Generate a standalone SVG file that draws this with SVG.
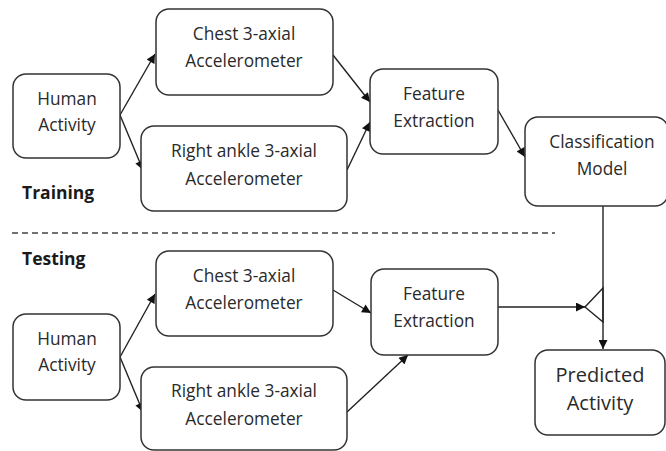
<svg xmlns="http://www.w3.org/2000/svg" width="666" height="451" viewBox="0 0 666 451">
<defs>
<marker id="ah" viewBox="0 0 10 10" refX="10" refY="5" markerWidth="10" markerHeight="9" markerUnits="userSpaceOnUse" orient="auto">
<path d="M0,0 L10,5 L0,10 Z" fill="#111"/>
</marker>
<style>
.box{fill:#fff;stroke:#333;stroke-width:1.5}
.t{font-family:"Open Sans","DejaVu Sans",sans-serif;font-size:17.3px;fill:#2a2a2a;text-anchor:middle}
.big{font-size:20px}
.lbl{font-family:"Open Sans","DejaVu Sans",sans-serif;font-size:17.5px;font-weight:bold;fill:#1a1a1a}
.c{stroke:#222;stroke-width:1.4;fill:none}
</style>
</defs>
<rect width="666" height="451" fill="#fff"/>
<g id="connectors">
<line class="c" x1="120" y1="115" x2="155" y2="54" marker-end="url(#ah)"/>
<line class="c" x1="120" y1="115" x2="143" y2="170" marker-end="url(#ah)"/>
<line class="c" x1="333" y1="55" x2="370" y2="102" marker-end="url(#ah)"/>
<line class="c" x1="347" y1="170" x2="370" y2="122" marker-end="url(#ah)"/>
<line class="c" x1="498" y1="110" x2="525" y2="157" marker-end="url(#ah)"/>
<line class="c" x1="120" y1="357" x2="155" y2="294" marker-end="url(#ah)"/>
<line class="c" x1="120" y1="357" x2="143" y2="412" marker-end="url(#ah)"/>
<line class="c" x1="333" y1="290" x2="371" y2="313" marker-end="url(#ah)"/>
<line class="c" x1="347" y1="412" x2="408" y2="355" marker-end="url(#ah)"/>
<line class="c" x1="498" y1="307" x2="585" y2="307" marker-end="url(#ah)"/>
<polygon class="c" points="585,307 603,288 603,322"/>
<line class="c" x1="603" y1="206" x2="603" y2="349" marker-end="url(#ah)"/>
<line x1="12" y1="233" x2="555" y2="233" stroke="#444" stroke-width="1.3" stroke-dasharray="6,4"/>
</g>
<g id="train-human"><rect class="box" x="13" y="74" width="107" height="84" rx="13"/><text class="t" x="67" y="105">Human</text><text class="t" x="67" y="131">Activity</text></g>
<g id="train-chest"><rect class="box" x="156" y="9" width="177" height="86" rx="13"/><text class="t" x="244" y="40">Chest 3-axial</text><text class="t" x="244" y="67">Accelerometer</text></g>
<g id="train-ankle"><rect class="box" x="141" y="126" width="206" height="85" rx="13"/><text class="t" x="244" y="157">Right ankle 3-axial</text><text class="t" x="244" y="185">Accelerometer</text></g>
<g id="train-feature"><rect class="box" x="370" y="69" width="128" height="85" rx="13"/><text class="t" x="434" y="100">Feature</text><text class="t" x="434" y="127">Extraction</text></g>
<g id="classification"><rect class="box" x="525" y="117" width="143" height="89" rx="13"/><text class="t" x="602" y="148">Classification</text><text class="t" x="602" y="175">Model</text></g>
<g id="training-label"><text class="lbl" x="22" y="199">Training</text></g>
<g id="testing-label"><text class="lbl" x="22" y="265">Testing</text></g>
<g id="test-chest"><rect class="box" x="156" y="251" width="177" height="85" rx="13"/><text class="t" x="244" y="282">Chest 3-axial</text><text class="t" x="244" y="309">Accelerometer</text></g>
<g id="test-human"><rect class="box" x="13" y="314" width="107" height="86" rx="13"/><text class="t" x="67" y="345">Human</text><text class="t" x="67" y="371">Activity</text></g>
<g id="test-ankle"><rect class="box" x="141" y="367" width="206" height="83" rx="13"/><text class="t" x="244" y="397">Right ankle 3-axial</text><text class="t" x="244" y="425">Accelerometer</text></g>
<g id="test-feature"><rect class="box" x="371" y="269" width="127" height="86" rx="13"/><text class="t" x="434" y="300">Feature</text><text class="t" x="434" y="327">Extraction</text></g>
<g id="predicted"><rect class="box" x="535" y="350" width="130" height="85" rx="13"/><text class="t big" x="600" y="382">Predicted</text><text class="t big" x="600" y="410">Activity</text></g>
</svg>
